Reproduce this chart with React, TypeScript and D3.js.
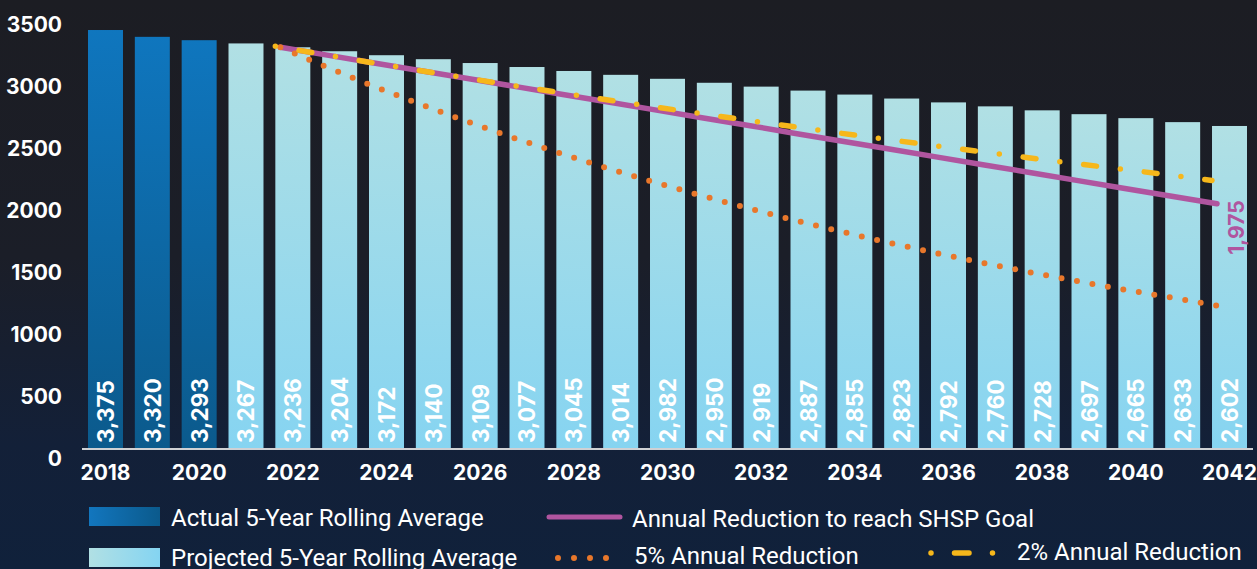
import React from 'react';
import * as d3 from 'd3';

// bar data: 5-year rolling average
const years = d3.range(2018, 2043);
const barValues = [
  3375, 3320, 3293, 3267, 3236, 3204, 3172, 3140, 3109, 3077, 3045, 3014, 2982,
  2950, 2919, 2887, 2855, 2823, 2792, 2760, 2728, 2697, 2665, 2633, 2602,
];
const actualCount = 3; // 2018-2020 are actual

// projection lines, 2022 -> 2042
const lineYears = d3.range(2022, 2043);
const goalValues = [
  3236, 3173, 3110, 3047, 2984, 2921, 2858, 2795, 2732, 2669, 2606, 2542, 2479,
  2416, 2353, 2290, 2227, 2164, 2101, 2038, 1975,
];
const fivePctValues = [
  3236, 3074, 2921, 2775, 2636, 2504, 2379, 2260, 2147, 2040, 1938, 1841, 1749,
  1661, 1578, 1499, 1424, 1353, 1285, 1221, 1155,
];
const twoPctValues = [
  3236, 3171, 3108, 3046, 2985, 2925, 2867, 2809, 2753, 2698, 2644, 2591, 2539,
  2489, 2439, 2390, 2342, 2295, 2249, 2204, 2155,
];
const yTicks = [0, 500, 1000, 1500, 2000, 2500, 3000, 3500];
const xTicks = d3.range(2018, 2043, 2);

const W = 1257;
const H = 569;
const PURPLE = '#b0559f';
const ORANGE = '#e8772b';
const YELLOW = '#f6b71b';
const boldFont = 'Inter, "DejaVu Sans", sans-serif';
const legendFont = 'Roboto, "Liberation Sans", sans-serif';

const fmt = d3.format(',');

const App = () => {
  const x = d3.scaleBand<number>().domain(years).range([88, 1247]).paddingInner(0.253).paddingOuter(0);
  const y = d3.scaleLinear().domain([0, 3500]).range([449, 14.5]);
  const bw = x.bandwidth();
  const lx = (yr: number) => (x(yr) as number) + 5;

  const line = d3
    .line<number>()
    .x((_, i) => lx(lineYears[i]))
    .y((d) => y(d));

  const lastGoal = goalValues[goalValues.length - 1];

  return (
    <svg width={W} height={H} style={{ position: 'absolute', left: 0, top: 0 }}>
      <defs>
        <linearGradient id="bg" x1="0" y1="0" x2="0" y2="1">
          <stop offset="0" stopColor="#1c1d23" />
          <stop offset="0.45" stopColor="#1b1e28" />
          <stop offset="0.78" stopColor="#132038" />
          <stop offset="1" stopColor="#10213b" />
        </linearGradient>
        <linearGradient id="actual" x1="0" y1="0" x2="0" y2="1">
          <stop offset="0" stopColor="#0f76be" />
          <stop offset="1" stopColor="#0b5a8c" />
        </linearGradient>
        <linearGradient id="proj" x1="0" y1="0" x2="0" y2="1">
          <stop offset="0" stopColor="#b1e0e4" />
          <stop offset="1" stopColor="#86d4f1" />
        </linearGradient>
        <linearGradient id="actualH" x1="0" y1="0" x2="1" y2="0">
          <stop offset="0" stopColor="#1276be" />
          <stop offset="1" stopColor="#0b5a8c" />
        </linearGradient>
        <linearGradient id="projH" x1="0" y1="0" x2="1" y2="0">
          <stop offset="0" stopColor="#b1e0e4" />
          <stop offset="1" stopColor="#84d4f2" />
        </linearGradient>
      </defs>
      <rect width={W} height={H} fill="url(#bg)" />

      {/* y axis labels */}
      {yTicks.map((t) => (
        <text
          key={t}
          x={62}
          y={y(t) + 17}
          textAnchor="end"
          fill="#fff"
          fontFamily={boldFont}
          fontWeight={700}
          fontSize={21}
        >
          {t}
        </text>
      ))}

      {/* bars */}
      {years.map((yr, i) => (
        <rect
          key={yr}
          x={x(yr)}
          y={y(barValues[i])}
          width={bw}
          height={y(0) - y(barValues[i])}
          fill={i < actualCount ? 'url(#actual)' : 'url(#proj)'}
        />
      ))}

      {/* bar labels */}
      {years.map((yr, i) => {
        const cx = (x(yr) as number) + bw / 2;
        return (
          <text
            key={yr}
            transform={`translate(${cx},443) rotate(-90)`}
            dominantBaseline="central"
            fill="#fff"
            fontFamily={boldFont}
            fontWeight={700}
            fontSize={22.5}
          >
            {fmt(barValues[i])}
          </text>
        );
      })}

      {/* axis line */}
      <line x1={82} x2={1253} y1={449} y2={449} stroke="#cfd1d4" strokeWidth={2} />

      {/* x labels */}
      {xTicks.map((yr) => (
        <text
          key={yr}
          x={(x(yr) as number) + bw / 2}
          y={480}
          textAnchor="middle"
          fill="#fff"
          fontFamily={boldFont}
          fontWeight={700}
          fontSize={21}
        >
          {yr}
        </text>
      ))}

      {/* projection lines */}
      <path d={line(goalValues) || ''} fill="none" stroke={PURPLE} strokeWidth={5.5} strokeLinecap="round" />
      <path
        d={line(fivePctValues) || ''}
        fill="none"
        stroke={ORANGE}
        strokeWidth={6}
        strokeLinecap="round"
        strokeDasharray="0 15.7"
      />
      <path
        d={line(twoPctValues) || ''}
        fill="none"
        stroke={YELLOW}
        strokeWidth={5.5}
        strokeLinecap="round"
        strokeDasharray="0 24 13 24"
        transform="translate(-5,-1)"
      />
      <text
        transform={`translate(${lx(2042) + 19},${y(lastGoal) + 51}) rotate(-90)`}
        dominantBaseline="central"
        fill={PURPLE}
        fontFamily={boldFont}
        fontWeight={700}
        fontSize={21}
      >
        {fmt(lastGoal)}
      </text>

      {/* legend */}
      <g fontFamily={legendFont} fontSize={24} fill="#fff">
        <rect x={89} y={507} width={71} height={19} fill="url(#actualH)" />
        <text x={171} y={526}>Actual 5-Year Rolling Average</text>
        <rect x={89} y={548} width={71} height={19} fill="url(#projH)" />
        <text x={171} y={566}>Projected 5-Year Rolling Average</text>

        <line x1={549} x2={620} y1={517} y2={517} stroke={PURPLE} strokeWidth={5} strokeLinecap="round" />
        <text x={632} y={527}>Annual Reduction to reach SHSP Goal</text>

        <line
          x1={558}
          x2={607}
          y1={558}
          y2={558}
          stroke={ORANGE}
          strokeWidth={6}
          strokeLinecap="round"
          strokeDasharray="0 16"
        />
        <text x={634} y={564}>5% Annual Reduction</text>

        <line
          x1={931}
          x2={993}
          y1={553}
          y2={553}
          stroke={YELLOW}
          strokeWidth={5.5}
          strokeLinecap="round"
          strokeDasharray="0 23.5 14.5 23.5 0 100"
        />
        <text x={1017} y={560}>2% Annual Reduction</text>
      </g>
    </svg>
  );
};

export default App;
